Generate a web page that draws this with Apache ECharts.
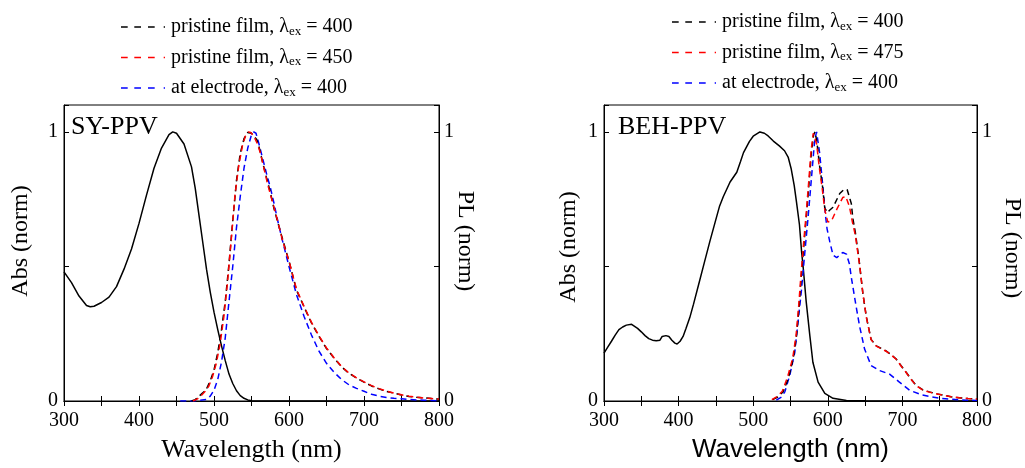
<!DOCTYPE html>
<html>
<head>
<meta charset="utf-8">
<script src="https://cdn.jsdelivr.net/npm/echarts@6/dist/echarts.min.js"></script>
<style>
html,body{margin:0;padding:0;background:#fff;}
#c{width:1025px;height:468px;}
</style>
</head>
<body>
<div id="c"></div>
<script>
// ---------- Tick labels ----------
const xTickLabels = [300, 400, 500, 600, 700, 800];
const yTickLabels = [0, 1];

// ---------- SY-PPV (left panel) ----------
const syAbsWl = [300,310,320,330,335,340,350,360,370,380,390,400,410,420,430,440,445,450,460,470,475,480,485,490,495,500,505,510,515,520,525,530,535,540,545,550,560,800];
const syAbs   = [0.48,0.44,0.39,0.355,0.35,0.352,0.366,0.386,0.425,0.49,0.565,0.66,0.765,0.865,0.94,0.99,1.0,0.995,0.955,0.87,0.79,0.69,0.59,0.49,0.405,0.33,0.265,0.205,0.15,0.1,0.065,0.038,0.02,0.01,0.004,0.001,0,0];

const syPf400Wl = [470,475,480,485,490,495,500,505,510,515,520,525,530,535,540,545,547,550,557,560,565,570,575,580,586,590,600,610,620,630,640,650,660,670,680,690,700,710,720,730,740,750,760,770,780,790,800];
const syPf400   = [0,0.005,0.018,0.03,0.045,0.075,0.115,0.18,0.265,0.37,0.51,0.67,0.82,0.92,0.975,0.998,1.0,0.995,0.972,0.945,0.885,0.83,0.777,0.715,0.655,0.615,0.52,0.412,0.35,0.29,0.24,0.195,0.16,0.127,0.103,0.085,0.07,0.056,0.045,0.036,0.029,0.022,0.017,0.014,0.012,0.009,0.007];

const syPf450Wl = [472,478,483,488,493,498,503,508,513,518,523,528,533,538,542,546,549,553,558,562,567,572,577,582,587,592,600,610,620,630,640,650,660,670,680,690,700,710,720,730,740,750,760,770,780,790,800];
const syPf450   = [0,0.008,0.02,0.035,0.055,0.09,0.14,0.21,0.31,0.44,0.6,0.765,0.875,0.95,0.985,1.0,0.998,0.985,0.955,0.92,0.86,0.8,0.75,0.7,0.645,0.59,0.52,0.415,0.352,0.292,0.242,0.197,0.161,0.128,0.104,0.086,0.071,0.057,0.046,0.037,0.029,0.023,0.018,0.014,0.011,0.009,0.007];

const syAe400Wl = [455,470,480,490,495,500,505,510,515,520,525,530,535,540,545,550,553,556,560,565,570,575,580,585,590,600,610,620,630,640,650,660,670,680,690,700,710,720,730,740,750,760,770,780,790,800];
const syAe400   = [0,0,0.002,0.006,0.018,0.04,0.08,0.145,0.235,0.37,0.5,0.645,0.76,0.865,0.94,0.99,1.0,0.995,0.955,0.9,0.845,0.795,0.735,0.67,0.61,0.5,0.395,0.315,0.245,0.185,0.14,0.107,0.08,0.06,0.047,0.036,0.025,0.018,0.013,0.01,0.008,0.006,0.004,0.003,0.002,0.001];

// ---------- BEH-PPV (right panel) ----------
const behAbsWl = [300,305,310,315,320,325,330,337,345,350,355,360,365,370,375,378,383,387,391,395,398,402,406,410,415,420,428,435,442,450,455,460,469,478,483,487,495,500,509,515,520,527,535,542,547,551,555,558,562,565,567,571,576,580,587,596,607,625,650,700,800];
const behAbs   = [0.178,0.2,0.222,0.245,0.265,0.275,0.282,0.285,0.27,0.257,0.243,0.232,0.226,0.224,0.226,0.24,0.243,0.24,0.226,0.215,0.212,0.222,0.24,0.27,0.31,0.36,0.445,0.52,0.594,0.675,0.725,0.76,0.814,0.85,0.89,0.923,0.965,0.984,1.0,0.995,0.985,0.966,0.948,0.93,0.905,0.862,0.8,0.74,0.655,0.55,0.497,0.37,0.241,0.144,0.07,0.028,0.01,0.002,0.001,0,0];

const behPf400Wl = [526,533,540,547,553.5,558,561.5,564.7,568,571.4,575,578,581,583,585.5,589,592.8,596,600,602,607,616,622,626,631.5,633.5,637,642.6,647,651.6,658,665,672,678,685,691.7,698,705,712,718.5,727,736,745,754,765,776,788,800];
const behPf400   = [0.005,0.015,0.034,0.083,0.156,0.241,0.351,0.472,0.582,0.692,0.814,0.923,0.99,1.0,0.96,0.874,0.8,0.716,0.7,0.708,0.72,0.771,0.787,0.785,0.734,0.68,0.625,0.509,0.4,0.314,0.229,0.205,0.195,0.186,0.172,0.156,0.132,0.107,0.08,0.058,0.042,0.034,0.027,0.022,0.016,0.012,0.009,0.007];

const behPf475Wl = [525,532,539,546,553,557.5,561,564.2,567.5,571,574.5,577.5,580.5,582.5,585,588.5,592.5,596,600,605,612,620,624,629,633,637,642.6,647,651.6,658,665,672,678,685,691.7,698,705,712,718.5,727,736,745,754,765,776,788,800];
const behPf475   = [0.005,0.016,0.036,0.088,0.16,0.245,0.355,0.475,0.585,0.695,0.818,0.928,0.995,1.0,0.955,0.87,0.79,0.71,0.665,0.67,0.712,0.756,0.76,0.723,0.665,0.615,0.505,0.4,0.312,0.228,0.204,0.194,0.185,0.171,0.155,0.131,0.106,0.079,0.057,0.041,0.033,0.027,0.022,0.016,0.012,0.009,0.007];

const behAe400Wl = [531,538,542.4,549,555.7,560,564.7,569,573.5,578,582.5,585,589,592.8,596.8,599,602.5,607,612,620,625,629,631.5,638,642.6,649.3,658,669.4,682.8,696,709.5,727,749.6,776,800];
const behAe400   = [0.003,0.015,0.034,0.095,0.18,0.29,0.412,0.546,0.68,0.826,0.972,1.0,0.923,0.814,0.692,0.64,0.594,0.542,0.533,0.552,0.546,0.509,0.46,0.351,0.278,0.193,0.132,0.113,0.1,0.07,0.04,0.022,0.01,0.004,0.002];

// ---------- Legend labels ----------
const legendLabels = {
  syPf400: 'pristine film, λ{sub|ex} = 400',
  syPf450: 'pristine film, λ{sub|ex} = 450',
  syAe400: 'at electrode, λ{sub|ex} = 400',
  behPf400: 'pristine film, λ{sub|ex} = 400',
  behPf475: 'pristine film, λ{sub|ex} = 475',
  behAe400: 'at electrode, λ{sub|ex} = 400'
};

const pair = (xs, ys) => xs.map((x, i) => [x, ys[i]]);

const SERIF = '"Liberation Serif", "Times New Roman", serif';
const SANS = '"Liberation Sans", Arial, sans-serif';

const chart = echarts.init(document.getElementById('c'), null, {renderer: 'canvas'});

function xAxisDef(gridIndex, nameFont) {
  return [
    {
      type: 'value', gridIndex, min: 300, max: 800, interval: 50, position: 'bottom',
      name: 'Wavelength (nm)', nameLocation: 'middle', nameGap: 36,
      nameTextStyle: {fontFamily: nameFont, fontSize: 26, color: '#000'},
      axisLine: {show: true, lineStyle: {color: '#000', width: 1}},
      axisTick: {show: true, inside: true, length: 5, lineStyle: {color: '#000'}},
      axisLabel: {show: true, margin: 10, fontFamily: SERIF, fontSize: 20, color: '#000',
        formatter: v => (xTickLabels.indexOf(v) >= 0 ? String(v) : '')},
      splitLine: {show: false}
    },
    {
      type: 'value', gridIndex, min: 300, max: 800, interval: 50, position: 'top',
      axisLine: {show: true, lineStyle: {color: '#000', width: 1}},
      axisTick: {show: true, inside: true, length: 5, lineStyle: {color: '#000'}},
      axisLabel: {show: false},
      splitLine: {show: false}
    }
  ];
}

function yAxisDef(gridIndex, leftGap, rightGap, leftShift, rightShift, rightNoMove) {
  return [
    {
      type: 'value', gridIndex, min: 0, max: 1.1, interval: 0.5, position: 'left',
      name: 'Abs (norm)', nameLocation: 'middle', nameGap: leftGap,
      nameTextStyle: {fontFamily: SERIF, fontSize: 24, color: '#000', padding: [0, 0, 0, leftShift]},
      axisLine: {show: true, lineStyle: {color: '#000', width: 1}},
      axisTick: {show: true, inside: true, length: 5, lineStyle: {color: '#000'}},
      axisLabel: {show: true, margin: 6, fontFamily: SERIF, fontSize: 20, color: '#000',
        formatter: v => (yTickLabels.indexOf(v) >= 0 ? String(v) : '')},
      splitLine: {show: false}
    },
    {
      type: 'value', gridIndex, min: 0, max: 1.1, interval: 0.5, position: 'right',
      name: 'PL (norm)', nameLocation: 'middle', nameGap: rightGap, nameRotate: -90,
      nameMoveOverlap: !rightNoMove,
      nameTextStyle: {fontFamily: SERIF, fontSize: 24, color: '#000', padding: [0, rightShift, 0, 0]},
      axisLine: {show: true, lineStyle: {color: '#000', width: 1}},
      axisTick: {show: true, inside: true, length: 5, lineStyle: {color: '#000'}},
      axisLabel: {show: true, margin: 5, fontFamily: SERIF, fontSize: 20, color: '#000',
        formatter: v => (yTickLabels.indexOf(v) >= 0 ? String(v) : '')},
      splitLine: {show: false}
    }
  ];
}

function line(name, xs, ys, color, dashed, xi, yi) {
  return {
    type: 'line', name, data: pair(xs, ys), xAxisIndex: xi, yAxisIndex: yi,
    symbol: 'none', smooth: false, silent: true, animation: false,
    lineStyle: {color, width: 1.5, type: dashed ? [6, 4] : 'solid'},
    itemStyle: {color}
  };
}

const dashIcon = 'path://M0,0h6.7v1.3h-6.7z M13.3,0h6.7v1.3h-6.7z M27,0h6.7v1.3h-6.7z M42.7,0h1.3v1.3h-1.3z';

function legendDef(left, top, names) {
  return {
    orient: 'vertical', left, top, itemWidth: 44, itemHeight: 1.3, itemGap: 9.5,
    icon: dashIcon, symbolKeepAspect: false,
    selectedMode: false, data: names,
    formatter: name => legendLabels[name],
    textStyle: {
      fontFamily: SERIF, fontSize: 20, color: '#000', padding: [0, 0, 0, 1],
      rich: {sub: {fontFamily: SERIF, fontSize: 13, color: '#000', padding: [9, 0, 0, 0]}}
    }
  };
}

const option = {
  backgroundColor: '#fff',
  animation: false,
  title: [
    {text: 'SY-PPV', left: 71, top: 114, padding: 0,
     textStyle: {fontFamily: SERIF, fontSize: 26, fontWeight: 'normal', color: '#000'}},
    {text: 'BEH-PPV', left: 618, top: 114, padding: 0,
     textStyle: {fontFamily: SERIF, fontSize: 26, fontWeight: 'normal', color: '#000'}}
  ],
  legend: [
    legendDef(116, 12, ['syPf400', 'syPf450', 'syAe400']),
    legendDef(667, 7, ['behPf400', 'behPf475', 'behAe400'])
  ],
  grid: [
    {left: 64, top: 105, width: 375, height: 301, show: true, borderColor: '#000', borderWidth: 1, containLabel: false},
    {left: 604, top: 105, width: 374, height: 301, show: true, borderColor: '#000', borderWidth: 1, containLabel: false}
  ],
  xAxis: [].concat(xAxisDef(0, SERIF), xAxisDef(1, SANS)),
  yAxis: [].concat(yAxisDef(0, 31, 14, 24, 24, true), yAxisDef(1, 23, 23, 12, 10, false)),
  series: [
    line('syAbs', syAbsWl, syAbs, '#000', false, 0, 0),
    line('syAe400', syAe400Wl, syAe400, '#0000ff', true, 0, 1),
    line('syPf400', syPf400Wl, syPf400, '#000', true, 0, 1),
    line('syPf450', syPf450Wl, syPf450, '#ff0000', true, 0, 1),
    line('behAbs', behAbsWl, behAbs, '#000', false, 2, 2),
    line('behAe400', behAe400Wl, behAe400, '#0000ff', true, 2, 3),
    line('behPf400', behPf400Wl, behPf400, '#000', true, 2, 3),
    line('behPf475', behPf475Wl, behPf475, '#ff0000', true, 2, 3)
  ]
};
chart.setOption(option);
</script>
</body>
</html>
